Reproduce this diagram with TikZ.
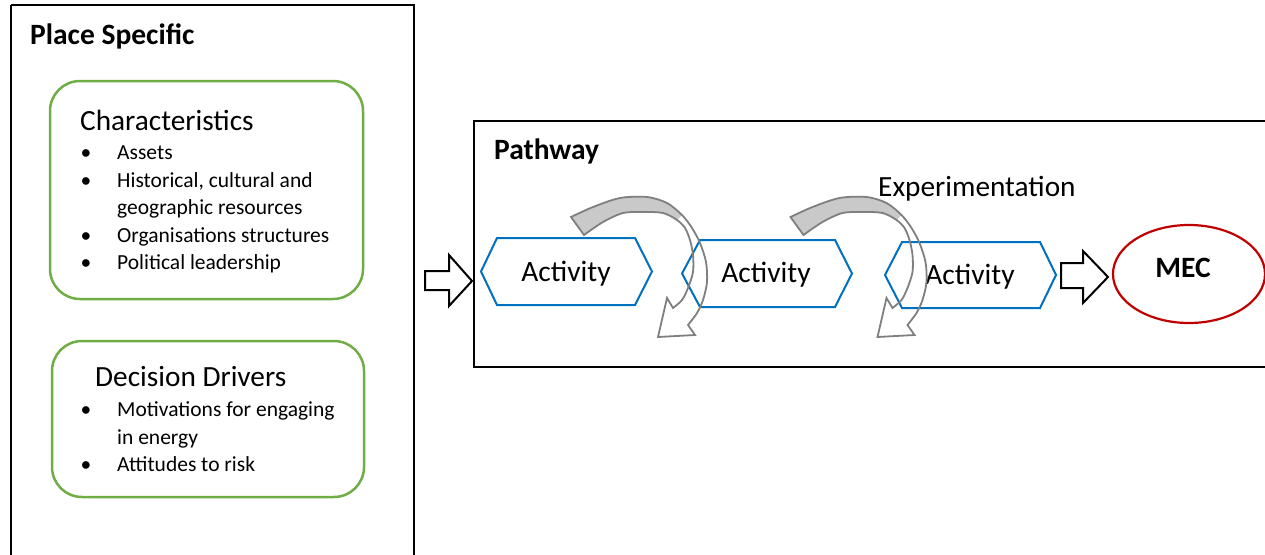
\documentclass[tikz,border=0pt]{standalone}
\usepackage{fontspec}
\setmainfont{Carlito}
\definecolor{boxgreen}{HTML}{70AD47}
\definecolor{actblue}{HTML}{0070C0}
\definecolor{mecred}{HTML}{C00000}
\definecolor{arrgrey}{HTML}{7F7F7F}
\definecolor{arrfill}{HTML}{C9C9C9}
\newcommand\exparrow{%
  \fill[arrfill] plot[smooth] coordinates {(571,217) (593,207) (620,198) (647,197) (667,203) (682,215)}
     -- plot[smooth] coordinates {(677,220) (663,213) (643,212) (623,213) (603,222) (584,235)} -- cycle;
  \draw[arrowline] plot[smooth] coordinates {(571,217) (593,207) (620,198) (647,197) (667,203) (682,215) (692,228) (700,243) (706,262) (707,282) (703,300) (697,313) (688,325)}
     -- (695,335) -- (658,337) -- (667,298)
     -- plot[smooth] coordinates {(673,308) (682,300) (688,288) (693,272) (693,255) (690,240) (685,228) (677,220) (663,213) (643,212) (623,213) (603,222) (584,235)} -- cycle;}
\begin{document}
\begin{tikzpicture}[x=1pt,y=-1pt,
  frame/.style={draw=black,line width=2},
  greenbox/.style={draw=boxgreen,line width=2.5,rounded corners=30},
  actbox/.style={draw=actblue,line width=2,line join=miter},
  blockarrow/.style={draw=black,line width=2,fill=white,line join=miter},
  arrowline/.style={draw=arrgrey,line width=1.8,line join=miter},
  bigtitle/.style={font=\fontsize{29.5}{34}\selectfont\bfseries,anchor=base west,inner sep=0},
  head/.style={font=\fontsize{29.3}{34}\selectfont,anchor=base west,inner sep=0},
  item/.style={font=\fontsize{21.5}{25}\selectfont,anchor=base west,inner sep=0},
  bul/.style={font=\fontsize{21.5}{25}\selectfont,anchor=base,inner sep=0},
  acttext/.style={font=\fontsize{29.5}{34}\selectfont,anchor=base,inner sep=0}]
\useasboundingbox (0,0) rectangle (1265,554);
\clip (0,0) rectangle (1265,554);

% Place Specific frame
\draw[frame] (11,5) -- (414,5) -- (414,570) (11,570) -- (11,5);
\node[bigtitle] (ps) at (30,44.5) {Place Specific};

% Characteristics
\draw[greenbox] (50,81) rectangle (363,299);
\node[head] (ch) at (80,130.5) {Characteristics};
\node[bul] (b1) at (86,159.5) {•};
\node[item] (i1) at (117,159.5) {Assets};
\node[bul] (b2) at (86,187) {•};
\node[item] (i2) at (117,187) {Historical, cultural and};
\node[item] (i2b) at (117,214.5) {geographic resources};
\node[bul] (b3) at (86,242) {•};
\node[item] (i3) at (117,242) {Organisations structures};
\node[bul] (b4) at (86,269.5) {•};
\node[item] (i4) at (117,269.5) {Political leadership};

% Decision Drivers
\draw[greenbox] (52,341) rectangle (364,497);
\node[head] (dd) at (95,386.5) {Decision Drivers};
\node[bul] (b5) at (86,416.5) {•};
\node[item] (i5) at (117,416.5) {Motivations for engaging};
\node[item] (i5b) at (117,444) {in energy};
\node[bul] (b6) at (86,471.5) {•};
\node[item] (i6) at (117,471.5) {Attitudes to risk};

% Pathway frame
\draw[frame] (1275,121) -- (474,121) -- (474,367) -- (1275,367);
\node[bigtitle] (pw) at (494,159.5) {Pathway};
\node[head] (exp) at (878,196.5) {Experimentation};

% arrow into pathway
\draw[blockarrow] (425,271) -- (449,271) -- (449,255) -- (472,281) -- (449,306) -- (449,290) -- (425,290) -- cycle;

% activities
\draw[actbox] (481,271.5) -- (497,238) -- (635,238) -- (652,271.5) -- (635,305) -- (497,305) -- cycle;
\node[acttext] (a1) at (566,281.5) {Activity};
\draw[actbox] (682,273.5) -- (700,240) -- (835,240) -- (852,273.5) -- (835,307) -- (700,307) -- cycle;
\node[acttext] (a2) at (766,282.5) {Activity};
\draw[actbox] (885,275) -- (902,242) -- (1040,242) -- (1056,275) -- (1040,308) -- (902,308) -- cycle;
\node[acttext] (a3) at (970,284.5) {Activity};

% arrow to MEC
\draw[blockarrow] (1061,263) -- (1083,263) -- (1083,251) -- (1108,277) -- (1083,303) -- (1083,288) -- (1061,288) -- cycle;

% MEC
\draw[draw=mecred,line width=2.2] (1189,274) ellipse [x radius=76,y radius=49];
\node[font=\fontsize{29.5}{34}\selectfont\bfseries,anchor=base,inner sep=0] (mec) at (1183,277.5) {MEC};

% experimentation curved arrows
\exparrow
\begin{scope}[shift={(219.5,0)}]
\exparrow
\end{scope}
\end{tikzpicture}
\end{document}
